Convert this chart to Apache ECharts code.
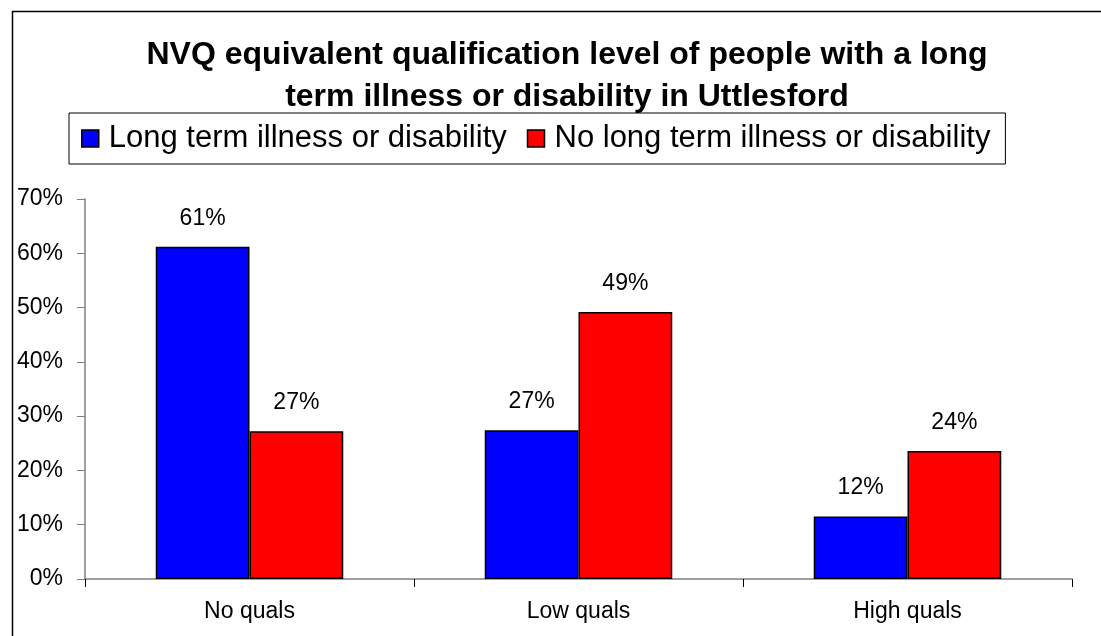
<!DOCTYPE html>
<html>
<head>
<meta charset="utf-8">
<title>NVQ qualification level - Uttlesford</title>
<script src="https://cdn.jsdelivr.net/npm/echarts@6/dist/echarts.min.js"></script>
<style>
  html, body { margin: 0; padding: 0; background: #fff; }
  #chart { width: 1101px; height: 636px; }
</style>
</head>
<body>
<div id="chart"></div>
<script>
// categories and values (percent)
const categories = ['No quals', 'Low quals', 'High quals'];
const seriesNames = ['Long term illness or disability', 'No long term illness or disability'];
const withIllness = [61.2, 27.4, 11.5];
const withoutIllness = [27.2, 49.2, 23.6];
const yTicks = [0, 10, 20, 30, 40, 50, 60, 70];

const FONT = 'Arial, "Liberation Sans", sans-serif';

const chart = echarts.init(document.getElementById('chart'));

function barSeries(name, data, color) {
  return {
    name: name,
    type: 'bar',
    data: data,
    barGap: '0%',
    barCategoryGap: '43%',
    itemStyle: {
      color: color,
      borderColor: '#000',
      borderWidth: 1.5
    },
    label: {
      show: true,
      position: 'top',
      distance: 17,
      color: '#000',
      fontFamily: FONT,
      fontSize: 23,
      formatter: p => Math.round(p.value) + '%'
    }
  };
}

const option = {
  animation: false,
  backgroundColor: '#fff',
  title: {
    text: 'NVQ equivalent qualification level of people with a long\nterm illness or disability in Uttlesford',
    left: 562,
    textAlign: 'center',
    top: 29,
    textStyle: {
      fontFamily: FONT,
      fontWeight: 'bold',
      fontSize: 32,
      lineHeight: 42,
      color: '#000'
    }
  },
  legend: {
    left: 69,
    top: 113,
    padding: [10, 15, 10, 12],
    itemGap: 20,
    itemWidth: 17,
    itemHeight: 17,
    borderColor: '#000',
    borderWidth: 1,
    icon: 'rect',
    itemStyle: { borderColor: '#000', borderWidth: 1.5 },
    textStyle: {
      fontFamily: FONT,
      fontSize: 31,
      color: '#000',
      padding: [0, 0, 0, 5]
    },
    data: seriesNames
  },
  grid: {
    left: 85,
    right: 29,
    top: 199,
    bottom: 57,
    containLabel: false
  },
  xAxis: {
    type: 'category',
    data: categories,
    axisLine: { lineStyle: { color: '#808080', width: 1.5 } },
    axisTick: { show: true, length: 8, lineStyle: { color: '#000' } },
    axisLabel: {
      margin: 21,
      color: '#000',
      fontFamily: FONT,
      fontSize: 23
    }
  },
  yAxis: {
    type: 'value',
    min: yTicks[0],
    max: yTicks[yTicks.length - 1],
    interval: 10,
    axisLine: { show: true, lineStyle: { color: '#808080', width: 1.5 } },
    axisTick: { show: true, length: 8, lineStyle: { color: '#808080' } },
    splitLine: { show: false },
    axisLabel: {
      margin: 22,
      color: '#000',
      fontFamily: FONT,
      fontSize: 23,
      formatter: v => v + '%'
    }
  },
  graphic: [{
    type: 'rect',
    left: 10,
    top: 9,
    shape: { width: 1200, height: 700 },
    style: { fill: 'none', stroke: '#000', lineWidth: 1.5 },
    silent: true
  }],
  series: [
    barSeries(seriesNames[0], withIllness, '#0000ff'),
    barSeries(seriesNames[1], withoutIllness, '#ff0000')
  ]
};

chart.setOption(option);
</script>
</body>
</html>
